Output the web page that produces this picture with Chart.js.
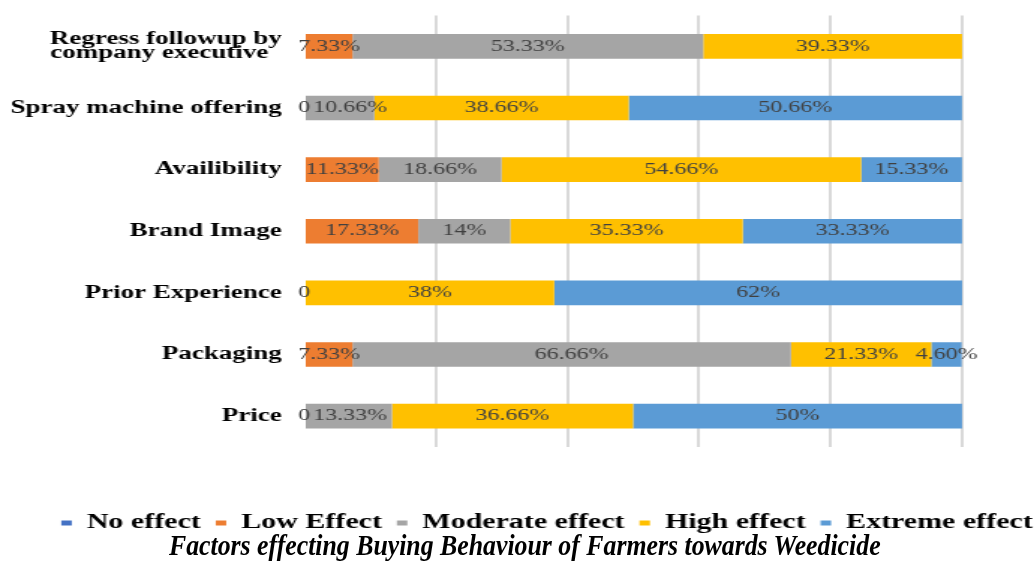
<!DOCTYPE html>
<html lang="en">
<head>
  <meta charset="UTF-8">
  <title>Factors effecting Buying Behaviour</title>
  <script src="https://cdn.jsdelivr.net/npm/chart.js"></script>
  <style>
    body { margin: 0; background: #fff; overflow: hidden; }
    #wrap { position: absolute; left: 0; top: 0; width: 690px; height: 562px;
            transform: scaleX(1.4986); transform-origin: 0 0; }
    #titulo { position: absolute; left: 8px; width: 1034px; top: 530px; text-align: center;
              font: italic bold 30px/30px "Liberation Serif", serif; color: #000; white-space: nowrap; }
    #titulo span { display: inline-block; transform: scaleX(0.86); }
  </style>
</head>
<body>
  <div id="wrap">
    <canvas id="grafico" width="690" height="562"></canvas>
  </div>
  <div id="titulo"><span>Factors effecting Buying Behaviour of Farmers towards Weedicide</span></div>

<script>
  // dados (percentual)
  const categorias = [
    ['Regress followup by', 'company executive  '],
    'Spray machine offering',
    'Availibility',
    'Brand Image',
    'Prior Experience',
    'Packaging',
    'Price'
  ];
  const semEfeito = [null, 0, null, null, 0, null, 0];
  const efeitoBaixo = [7.33, null, 11.33, 17.33, null, 7.33, null];
  const efeitoModerado = [53.33, 10.66, 18.66, 14, null, 66.66, 13.33];
  const efeitoAlto = [39.33, 38.66, 54.66, 35.33, 38, 21.33, 36.66];
  const efeitoExtremo = [null, 50.66, 15.33, 33.33, 62, 4.60, 50];
  const legendas = ['No effect', 'Low Effect', 'Moderate effect', 'High effect', 'Extreme effect'];
  const cores = ['#4472C4', '#ED7D31', '#A5A5A5', '#FFC000', '#5B9BD5'];
  const gridTicks = [0, 20, 40, 60, 80, 100];

  function formatar(v) {
    if (v === 0) return '0';
    if (Number.isInteger(v)) return v + '%';
    return v.toFixed(2) + '%';
  }

  // escreve os valores em cima das barras
  const rotulos = {
    id: 'rotulos',
    afterDatasetsDraw(chart) {
      const ctx = chart.ctx;
      ctx.save();
      ctx.font = '16px "Liberation Serif", serif';
      ctx.fillStyle = '#404040';
      ctx.textBaseline = 'middle';
      ctx.textAlign = 'center';
      const ultimo = {};
      chart.data.datasets.forEach((ds, i) => {
        const meta = chart.getDatasetMeta(i);
        meta.data.forEach((bar, j) => {
          const v = ds.data[j];
          if (v === null || v === undefined) return;
          const p = bar.getProps(['x', 'base', 'y'], true);
          const txt = formatar(v);
          const w = ctx.measureText(txt).width;
          let cx = (p.x + p.base) / 2;
          // empurra o rotulo se encostar no anterior
          if (ultimo[j] !== undefined && cx - w / 2 < ultimo[j] + 2) {
            cx = ultimo[j] + 2 + w / 2;
          }
          ultimo[j] = cx + w / 2;
          ctx.fillText(txt, cx, p.y);
        });
      });
      ctx.restore();
    }
  };

  // legenda um pouco pra direita, como no original
  const moveLegenda = {
    id: 'moveLegenda',
    afterLayout(chart) {
      chart.legend.left += 20;
      chart.legend.right += 20;
    }
  };

  const series = [semEfeito, efeitoBaixo, efeitoModerado, efeitoAlto, efeitoExtremo];

  const config = {
    type: 'bar',
    data: {
      labels: categorias,
      datasets: series.map((d, i) => ({
        label: legendas[i],
        data: d,
        backgroundColor: cores[i],
        borderWidth: 0,
        categoryPercentage: 0.4,
        barPercentage: 1
      }))
    },
    options: {
      indexAxis: 'y',
      responsive: false,
      animation: false,
      devicePixelRatio: 1,
      layout: { padding: { top: 15.5, right: 0, bottom: 19, left: 0 } },
      scales: {
        x: {
          stacked: true,
          min: 0,
          max: 100,
          afterBuildTicks: (s) => { s.ticks = gridTicks.map(v => ({ value: v })); },
          ticks: { display: false },
          border: { display: false },
          grid: {
            drawTicks: false,
            lineWidth: 2,
            color: (c) => c.tick && c.tick.value === 0 ? 'rgba(0,0,0,0)' : '#d9d9d9'
          },
          title: { display: true, text: ' ', font: { size: 10 }, padding: { top: 22, bottom: 22 } }
        },
        y: {
          stacked: true,
          border: { display: false },
          grid: { display: false, drawTicks: false },
          afterFit: (s) => { s.width = 203; s.paddingTop = 0; s.paddingBottom = 0; },
          ticks: {
            padding: 15,
            color: '#000',
            font: { family: '"Liberation Serif", serif', size: 18, weight: 'bold', lineHeight: 0.8 }
          }
        },
        direita: {
          axis: 'y',
          position: 'right',
          border: { display: false },
          grid: { display: false, drawTicks: false },
          ticks: { display: false },
          afterFit: (s) => { s.width = 48; s.paddingTop = 0; s.paddingBottom = 0; }
        }
      },
      plugins: {
        tooltip: { enabled: false },
        legend: {
          position: 'bottom',
          align: 'center',
          labels: {
            boxWidth: 7,
            boxHeight: 5,
            padding: 10,
            color: '#000',
            font: { family: '"Liberation Serif", serif', size: 20, weight: 'bold' }
          }
        }
      }
    },
    plugins: [rotulos, moveLegenda]
  };

  let myChart = new Chart(document.getElementById('grafico'), config);
</script>
</body>
</html>
